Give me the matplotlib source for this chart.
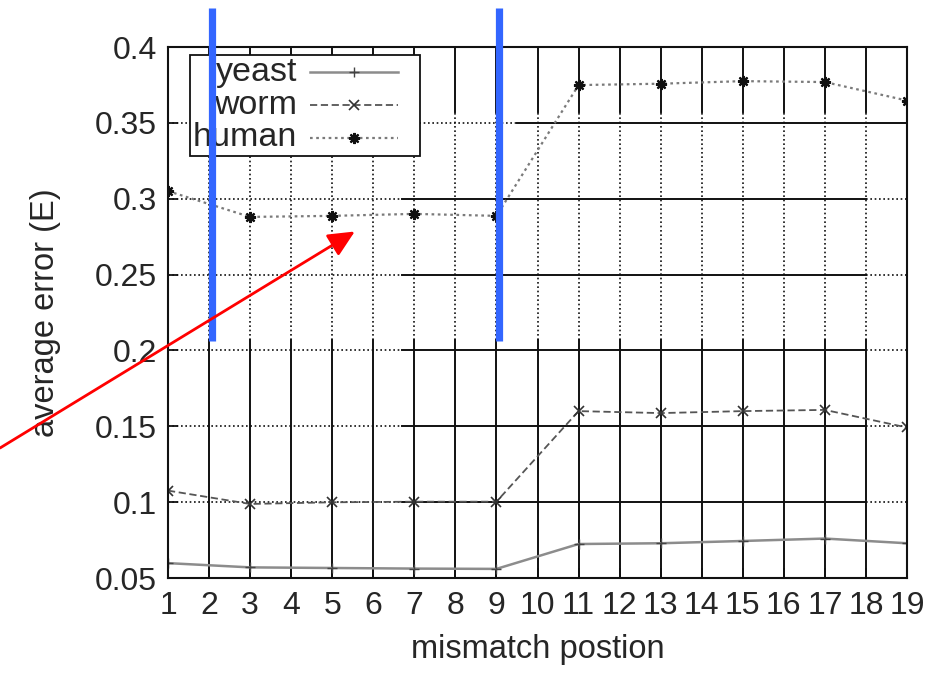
import matplotlib
matplotlib.use("Agg")
import matplotlib.pyplot as plt
from matplotlib.patches import Rectangle
from matplotlib.lines import Line2D
from matplotlib.ticker import FuncFormatter

plt.rcParams['font.family'] = ['Liberation Sans', 'DejaVu Sans']

# ---- data ----
positions = [1, 3, 5, 7, 9, 11, 13, 15, 17, 19]
yeast = [0.0598, 0.0570, 0.0566, 0.0562, 0.0560, 0.0724, 0.0729, 0.0744, 0.0760, 0.0729]
worm = [0.1076, 0.0988, 0.0999, 0.1003, 0.1003, 0.1600, 0.1587, 0.1600, 0.1608, 0.1492]
human = [0.3050, 0.2880, 0.2887, 0.2900, 0.2887, 0.3749, 0.3758, 0.3775, 0.3769, 0.3647]
series_names = ["yeast", "worm", "human"]
x_ticks = list(range(1, 20))
y_ticks = [0.05, 0.1, 0.15, 0.2, 0.25, 0.3, 0.35, 0.4]
blue_marks = [2.06, 9.06]

TXT = '#262626'
FS = 23

fig = plt.figure(figsize=(9.26, 6.78), dpi=100)
ax = fig.add_axes([168/926, 1-578/678, (907-168)/926, (578-47)/678])
ax.set_xlim(1, 19)
ax.set_ylim(0.05, 0.4)

# ---- grid (gnuplot-like mixed solid / dotted) ----
dot = (0, (1.0, 1.6))
gk = dict(color='#111111', zorder=1)
for xv in x_ticks[1:-1]:
    ax.plot([xv, xv], [0.05, 0.207], lw=1.4, ls='-', **gk)
    ax.plot([xv, xv], [0.207, 0.357], lw=1.2, ls=dot, **gk)
    ax.plot([xv, xv], [0.357, 0.4], lw=1.4, ls='-', **gk)
for yv in y_ticks[1:-1]:
    if yv < 0.34:
        ax.plot([1, 6.7], [yv, yv], lw=1.2, ls=dot, **gk)
        ax.plot([6.7, 18], [yv, yv], lw=1.4, ls='-', **gk)
        ax.plot([18, 19], [yv, yv], lw=1.2, ls=dot, **gk)
    else:
        ax.plot([1, 9.5], [yv, yv], lw=1.2, ls=dot, **gk)
        ax.plot([9.5, 19], [yv, yv], lw=1.4, ls='-', **gk)

# ---- series ----
st = {
    "yeast": dict(color='#8c8c8c', lw=1.8, ls='-', marker='+', ms=7, mew=1.0, mec='#444444'),
    "worm": dict(color='#555555', lw=1.3, ls=(0, (4, 2)), marker='x', ms=6.5, mew=1.2, mec='#333333'),
    "human": dict(color='#7a7a7a', lw=1.6, ls=(0, (1.2, 1.6)), marker=(8, 2, 0), ms=8, mew=1.6, mec='#111111'),
}
for name, vals in zip(series_names, [yeast, worm, human]):
    ax.plot(positions, vals, zorder=3, **st[name])

# ---- axes styling ----
for s in ax.spines.values():
    s.set_linewidth(1.5)
    s.set_color('#111111')
    s.set_zorder(5)
ax.set_xticks(x_ticks)
ax.set_yticks(y_ticks)
ax.yaxis.set_major_formatter(FuncFormatter(lambda v, p: '%g' % round(v, 3)))
ax.tick_params(direction='in', length=7, width=1.3, colors='#111111',
               labelcolor=TXT, labelsize=FS, top=False, right=False)
ax.tick_params(axis='y', pad=8)
ax.tick_params(axis='x', pad=9)
ax.set_xlabel('mismatch postion', fontsize=FS + 0.5, color=TXT, labelpad=10)
ax.set_ylabel('average error (E)', fontsize=FS + 0.5, color=TXT, labelpad=24)

# ---- manual gnuplot-style legend ----
def fx(px):
    return (px - 168) / 739.0

def fy(py):
    return (578 - py) / 531.0

ax.add_patch(Rectangle((fx(190), fy(156)), fx(420) - fx(190), fy(55) - fy(156),
                       transform=ax.transAxes, facecolor='white', edgecolor='#111111',
                       lw=1.3, zorder=6))
for i, name in enumerate(series_names):
    yy = fy(72 + 33 * i)
    ax.text(fx(297), yy, name, transform=ax.transAxes, ha='right', va='center',
            fontsize=FS + 1.5, color=TXT, zorder=7)
    s = dict(st[name])
    mk = dict(marker=s.pop('marker'), ms=s.pop('ms'), mew=s.pop('mew'), mec=s.pop('mec'))
    ax.add_line(Line2D([fx(310), fx(398)], [yy, yy], transform=ax.transAxes, zorder=7, **s))
    ax.add_line(Line2D([fx(354)], [yy], transform=ax.transAxes, zorder=7, ls='none', **mk))

# ---- overlays: blue vertical bars and red arrow ----
for bx in blue_marks:
    ax.plot([bx, bx], [0.206, 0.4257], color='#3366ff', lw=5.2, solid_capstyle='butt',
            zorder=10, clip_on=False)

ax.annotate('', xy=(5.55, 0.2784), xycoords='data',
            xytext=(0, 678 - 448), textcoords='figure pixels',
            arrowprops=dict(arrowstyle='-|>,head_length=1.6,head_width=0.75',
                            color='#ff0000', lw=2.0, shrinkA=0, shrinkB=0),
            annotation_clip=False, zorder=11)

fig.savefig('out.png', dpi=100)
